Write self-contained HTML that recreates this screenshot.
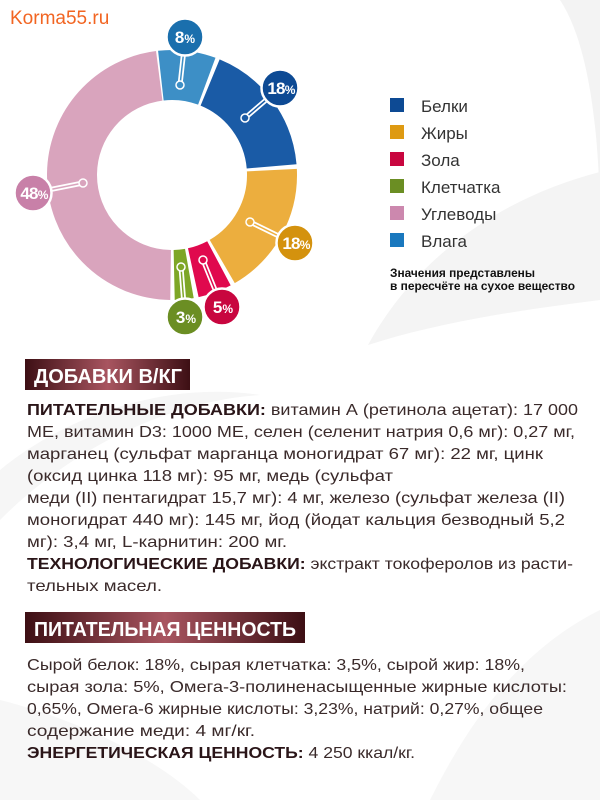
<!DOCTYPE html>
<html><head><meta charset="utf-8"><style>
html,body{margin:0;padding:0;background:#fff;}
svg{display:block;font-family:"Liberation Sans",sans-serif;}
</style></head><body>
<svg width="600" height="800" viewBox="0 0 600 800" xmlns="http://www.w3.org/2000/svg">
<defs>
<linearGradient id="hg" x1="0" y1="0" x2="1" y2="0">
<stop offset="0" stop-color="#3d0f14"/><stop offset="0.5" stop-color="#a85560"/><stop offset="1" stop-color="#3d0f14"/>
</linearGradient>
</defs>
<!-- background swirl -->
<path d="M560 0 C600 60 600 200 600 230 L600 0 Z" fill="#f3f3f3"/>
<path d="M368 345 C420 250 510 195 600 172 L600 300 C520 310 440 322 368 345 Z" fill="#f4f4f4"/>
<path d="M0 470 C60 420 160 380 260 395 C180 400 80 440 0 520 Z" fill="#f6f6f6"/>
<path d="M430 800 C470 720 520 650 600 610 L600 800 Z" fill="#f7f7f7"/>
<path d="M0 700 C80 720 160 760 200 800 L0 800 Z" fill="#f7f7f7"/>

<text x="10" y="24" font-size="19" fill="#f26522">Korma55.ru</text>

<!-- donut -->
<g fill="none" stroke-width="50">
<circle cx="172" cy="175" r="100" stroke="#d9a4bd" stroke-dasharray="299.8 328.5" transform="rotate(90.8 172 175)"/>
<circle cx="172" cy="175" r="100" stroke="#3d8fc6" stroke-dasharray="46.7 581.6" transform="rotate(263.6 172 175)"/>
<circle cx="172" cy="175" r="100" stroke="#1a5ba6" stroke-dasharray="109.3 519" transform="rotate(292.4 172 175)"/>
<circle cx="172" cy="175" r="100" stroke="#ecae3e" stroke-dasharray="109.3 519" transform="rotate(357.2 172 175)"/>
<circle cx="172" cy="175" r="100" stroke="#e0094e" stroke-dasharray="27.4 601" transform="rotate(62 172 175)"/>
<circle cx="172" cy="175" r="100" stroke="#7ea626" stroke-dasharray="15.3 613" transform="rotate(80 172 175)"/>
</g>
<!-- connectors -->
<g stroke-linecap="round">
<g stroke="#fff" stroke-width="5">
<line x1="180" y1="85" x2="185" y2="40"/>
<line x1="245" y1="118" x2="280" y2="88"/>
<line x1="83" y1="183" x2="33" y2="193"/>
<line x1="250" y1="222" x2="293" y2="243"/>
<line x1="203" y1="260" x2="222" y2="307"/>
<line x1="181" y1="267" x2="185" y2="318"/>
</g>
<line x1="180" y1="85" x2="185" y2="40" stroke="#3d8fc6" stroke-width="1.5"/>
<line x1="245" y1="118" x2="280" y2="88" stroke="#1a5ba6" stroke-width="1.5"/>
<line x1="83" y1="183" x2="33" y2="193" stroke="#d9a4bd" stroke-width="1.5"/>
<line x1="250" y1="222" x2="293" y2="243" stroke="#ecae3e" stroke-width="1.5"/>
<line x1="203" y1="260" x2="222" y2="307" stroke="#e0094e" stroke-width="1.5"/>
<line x1="181" y1="267" x2="185" y2="318" stroke="#7ea626" stroke-width="1.5"/>
</g>
<g stroke="#fff" stroke-width="1.5">
<circle cx="180" cy="85" r="4" fill="#3d8fc6"/>
<circle cx="245" cy="118" r="4" fill="#1a5ba6"/>
<circle cx="83" cy="183" r="4" fill="#d9a4bd"/>
<circle cx="250" cy="222" r="4" fill="#ecae3e"/>
<circle cx="203" cy="260" r="4" fill="#e0094e"/>
<circle cx="181" cy="267" r="4" fill="#7ea626"/>
</g>
<g stroke="#fff" stroke-width="2.5">
<circle cx="185" cy="37" r="18.5" fill="#1a6fad"/>
<circle cx="280" cy="88" r="18.5" fill="#0d4a94"/>
<circle cx="33" cy="193" r="18.5" fill="#c880a8"/>
<circle cx="295" cy="243" r="18.5" fill="#d4920e"/>
<circle cx="222" cy="307" r="18.5" fill="#c8063f"/>
<circle cx="185" cy="317" r="18.5" fill="#6b8e23"/>
</g>
<g fill="#fff" font-weight="bold" font-size="17" text-anchor="middle">
<text x="185" y="43">8<tspan font-size="12">%</tspan></text>
<text x="281" y="94" letter-spacing="-0.8">18<tspan font-size="12">%</tspan></text>
<text x="34" y="199" letter-spacing="-0.8">48<tspan font-size="12">%</tspan></text>
<text x="296" y="249" letter-spacing="-0.8">18<tspan font-size="12">%</tspan></text>
<text x="223" y="313">5<tspan font-size="12">%</tspan></text>
<text x="186" y="323">3<tspan font-size="12">%</tspan></text>
</g>

<!-- legend -->
<rect x="390" y="98" width="14" height="14" fill="#0d4a94"/>
<rect x="390" y="125" width="14" height="14" fill="#de9a12"/>
<rect x="390" y="152" width="14" height="14" fill="#c8063f"/>
<rect x="390" y="179" width="14" height="14" fill="#6b8e23"/>
<rect x="390" y="206" width="14" height="14" fill="#cc88ae"/>
<rect x="390" y="233" width="14" height="14" fill="#1a78be"/>
<g font-size="17" fill="#333">
<text x="421" y="112">Белки</text>
<text x="421" y="139">Жиры</text>
<text x="421" y="166">Зола</text>
<text x="421" y="193">Клетчатка</text>
<text x="421" y="220">Углеводы</text>
<text x="421" y="247">Влага</text>
</g>
<g font-size="11.5" font-weight="bold" fill="#111">
<text x="390" y="277" textLength="145" lengthAdjust="spacingAndGlyphs">Значения представлены</text>
<text x="390" y="290" textLength="185" lengthAdjust="spacingAndGlyphs">в пересчёте на сухое вещество</text>
</g>

<!-- section 1 -->
<rect x="25" y="359" width="165" height="31" fill="url(#hg)"/>
<text x="34" y="383" font-size="20" font-weight="bold" fill="#fff" textLength="148" lengthAdjust="spacingAndGlyphs">ДОБАВКИ В/КГ</text>
<g font-size="16" fill="#3a2a2a">
<text x="27" y="415" textLength="551" lengthAdjust="spacingAndGlyphs"><tspan font-weight="bold" fill="#2a1518">ПИТАТЕЛЬНЫЕ ДОБАВКИ:</tspan> витамин А (ретинола ацетат): 17 000</text>
<text x="27" y="437" textLength="548" lengthAdjust="spacingAndGlyphs">МЕ, витамин D3: 1000 МЕ, селен (селенит натрия 0,6 мг): 0,27 мг,</text>
<text x="27" y="459" textLength="516" lengthAdjust="spacingAndGlyphs">марганец (сульфат марганца моногидрат 67 мг): 22 мг, цинк</text>
<text x="27" y="481" textLength="366" lengthAdjust="spacingAndGlyphs">(оксид цинка 118 мг): 95 мг, медь (сульфат</text>
<text x="27" y="503" textLength="538" lengthAdjust="spacingAndGlyphs">меди (II) пентагидрат 15,7 мг): 4 мг, железо (сульфат железа (II)</text>
<text x="27" y="525" textLength="538" lengthAdjust="spacingAndGlyphs">моногидрат 440 мг): 145 мг, йод (йодат кальция безводный 5,2</text>
<text x="27" y="547" textLength="260" lengthAdjust="spacingAndGlyphs">мг): 3,4 мг, L-карнитин: 200 мг.</text>
<text x="27" y="569" textLength="546" lengthAdjust="spacingAndGlyphs"><tspan font-weight="bold" fill="#2a1518">ТЕХНОЛОГИЧЕСКИЕ ДОБАВКИ:</tspan> экстракт токоферолов из расти-</text>
<text x="27" y="591" textLength="135" lengthAdjust="spacingAndGlyphs">тельных масел.</text>
</g>

<!-- section 2 -->
<rect x="25" y="612" width="280" height="31" fill="url(#hg)"/>
<text x="34" y="636" font-size="20" font-weight="bold" fill="#fff" textLength="262" lengthAdjust="spacingAndGlyphs">ПИТАТЕЛЬНАЯ ЦЕННОСТЬ</text>
<g font-size="16" fill="#3a2a2a">
<text x="27" y="670" textLength="498" lengthAdjust="spacingAndGlyphs">Сырой белок: 18%, сырая клетчатка: 3,5%, сырой жир: 18%,</text>
<text x="27" y="692" textLength="540" lengthAdjust="spacingAndGlyphs">сырая зола: 5%, Омега-3-полиненасыщенные жирные кислоты:</text>
<text x="27" y="714" textLength="516" lengthAdjust="spacingAndGlyphs">0,65%, Омега-6 жирные кислоты: 3,23%, натрий: 0,27%, общее</text>
<text x="27" y="736" textLength="228" lengthAdjust="spacingAndGlyphs">содержание меди: 4 мг/кг.</text>
<text x="27" y="758" textLength="388" lengthAdjust="spacingAndGlyphs"><tspan font-weight="bold" fill="#2a1518">ЭНЕРГЕТИЧЕСКАЯ ЦЕННОСТЬ:</tspan> 4 250 ккал/кг.</text>
</g>
</svg>
</body></html>
